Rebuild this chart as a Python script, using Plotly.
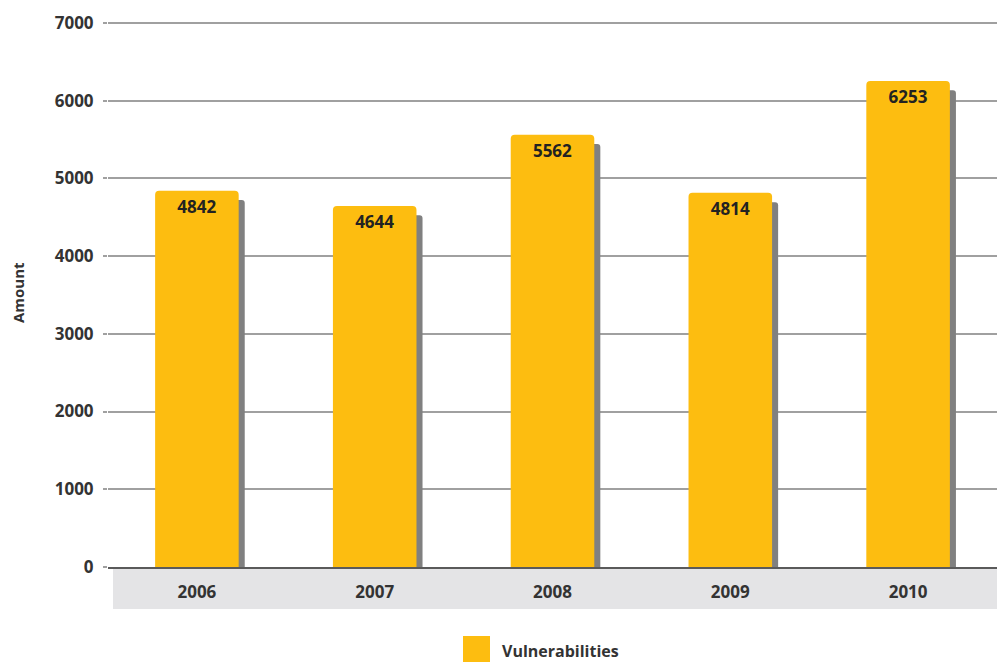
import plotly.graph_objects as go

years = ["2006", "2007", "2008", "2009", "2010"]
vulnerabilities = [4842, 4644, 5562, 4814, 6253]
series_name = "Vulnerabilities"
y_ticks = [0, 1000, 2000, 3000, 4000, 5000, 6000, 7000]
y_title = "Amount"

BAR = "#FDBD10"
SHADOW = "#808080"
FONT = "Open Sans"
bar_w = 0.47
shadow_dx = 0.034
shadow_dy = 120

fig = go.Figure()
# shadow
fig.add_trace(go.Bar(
    x=years, y=vulnerabilities, base=-shadow_dy,
    width=bar_w, offset=-bar_w / 2 + shadow_dx,
    marker=dict(color=SHADOW, line=dict(width=0), cornerradius=3),
    hoverinfo="skip", showlegend=False,
))
# main bars
fig.add_trace(go.Bar(
    x=years, y=vulnerabilities, name=series_name,
    width=bar_w, offset=-bar_w / 2,
    marker=dict(color=BAR, line=dict(width=0), cornerradius=4),
    text=[str(v) for v in vulnerabilities], textposition="inside",
    insidetextanchor="end", textangle=0,
    textfont=dict(family=FONT, size=17, color="#222222", weight="bold"),
    showlegend=False,
))

fig.update_layout(
    width=997, height=663,
    margin=dict(l=108, r=0, t=19, b=96),
    paper_bgcolor="white", plot_bgcolor="white",
    barmode="overlay",
    font=dict(family=FONT, color="#333333"),
    xaxis=dict(
        type="category", showgrid=False, zeroline=False,
        showline=True, linecolor="#5a5a5a", linewidth=2,
        ticks="outside", ticklen=9, tickcolor="rgba(0,0,0,0)",
        tickfont=dict(family=FONT, size=17, color="#333333", weight="bold"),
    ),
    yaxis=dict(
        range=[0, 7050], tickvals=y_ticks, showgrid=True,
        gridcolor="#a0a0a0", gridwidth=1.5, zeroline=False,
        ticks="outside", ticklen=4, tickcolor="#a0a0a0", tickwidth=1.5,
        ticklabelstandoff=6,
        tickfont=dict(family=FONT, size=17, color="#333333", weight="bold"),
    ),
    shapes=[
        dict(type="rect", xref="paper", yref="paper",
             x0=0.0056, x1=1.0, y0=-0.0766, y1=-0.002,
             fillcolor="#E4E4E6", line=dict(width=0), layer="below"),
        dict(type="rect", xref="paper", yref="paper",
             x0=0.3993, x1=0.4297, y0=-0.1734, y1=-0.1259,
             fillcolor=BAR, line=dict(width=0)),
    ],
    annotations=[
        dict(text=y_title, xref="paper", yref="paper", x=0, y=0.5,
             xshift=-90, textangle=-90, showarrow=False,
             xanchor="center", yanchor="middle",
             font=dict(family=FONT, size=15, color="#333333", weight="bold")),
        dict(text=series_name, xref="paper", yref="paper", x=0.441, y=-0.153,
             xanchor="left", yanchor="middle", showarrow=False,
             font=dict(family=FONT, size=16, color="#333333", weight="bold")),
    ],
)

fig.write_html("out.html")
